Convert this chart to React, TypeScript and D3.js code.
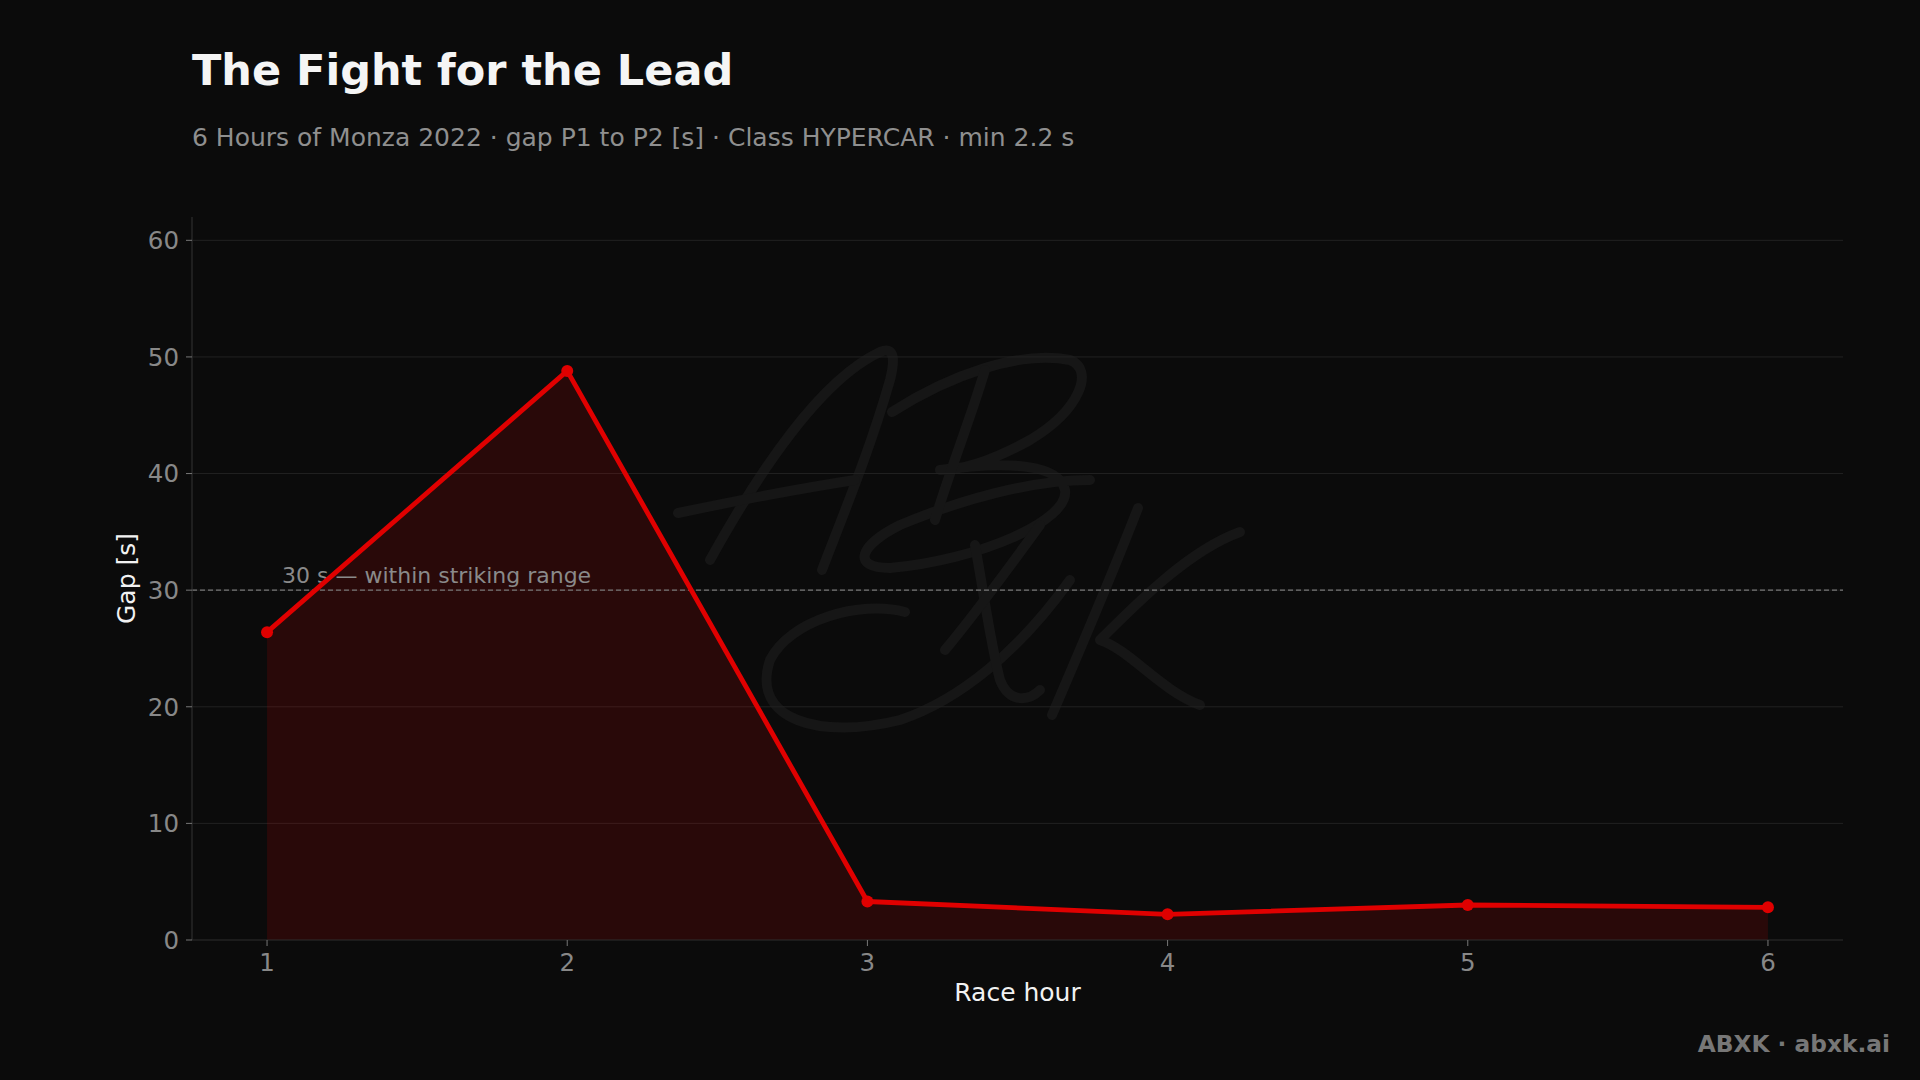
import React from "react";
import * as d3 from "d3";

const hours = [1, 2, 3, 4, 5, 6];
const gaps = [26.4, 48.8, 3.3, 2.2, 3.0, 2.8];
const yTicks = [0, 10, 20, 30, 40, 50, 60];
const xTicks = [1, 2, 3, 4, 5, 6];
const refValue = 30;
const refLabel = "30 s — within striking range";
const title = "The Fight for the Lead";
const subtitle = "6 Hours of Monza 2022 · gap P1 to P2 [s] · Class HYPERCAR · min 2.2 s";
const xLabel = "Race hour";
const yLabel = "Gap [s]";
const footer = "ABXK · abxk.ai";

const W = 1920;
const H = 1080;
const M = { left: 192, right: 1843, top: 217, bottom: 940 };
const FONT = "DejaVu Sans, sans-serif";

export default function App() {
  const x = d3.scaleLinear().domain([0.75, 6.25]).range([M.left, M.right]);
  const y = d3.scaleLinear().domain([0, 62]).range([M.bottom, M.top]);
  const pts = hours.map((h, i) => [h, gaps[i]] as [number, number]);
  const line = d3.line<[number, number]>().x((d) => x(d[0])).y((d) => y(d[1]))(pts) || "";
  const area = d3
    .area<[number, number]>()
    .x((d) => x(d[0]))
    .y0(y(0))
    .y1((d) => y(d[1]))(pts) || "";

  const wm = "#161616";
  return (
    <svg width={W} height={H} style={{ display: "block", position: "absolute", left: 0, top: 0 }} fontFamily={FONT}>
      <rect width={W} height={H} fill="#0b0b0b" />
      {/* watermark signature */}
      <g fill="none" stroke={wm} strokeWidth={10} strokeLinecap="round" strokeLinejoin="round">
        <path d="M 710 560 C 760 470, 820 380, 880 352 C 895 346, 895 360, 890 380 C 870 450, 845 510, 822 570" />
        <path d="M 678 513 C 740 500, 790 490, 855 480" />
        <path d="M 892 412 C 950 375, 1020 350, 1070 360 C 1095 370, 1080 410, 1030 440 C 990 462, 960 470, 940 470 C 1010 460, 1060 465, 1065 490 C 1070 520, 980 560, 890 568 C 850 568, 860 545, 900 525 C 960 500, 1030 480, 1090 480" />
        <path d="M 985 370 C 970 420, 950 470, 935 520" />
        <path d="M 1070 580 C 1020 650, 960 700, 900 720 C 820 740, 750 720, 770 660 C 790 620, 860 600, 905 612" />
        <path d="M 975 545 C 985 600, 990 640, 1000 680 C 1010 705, 1030 700, 1040 690" />
        <path d="M 1040 525 C 1000 580, 970 620, 945 650" />
        <path d="M 1138 508 C 1110 580, 1080 650, 1052 715" />
        <path d="M 1240 532 C 1190 550, 1140 600, 1100 640 C 1130 650, 1160 690, 1200 705" />
      </g>
      {/* grid */}
      {yTicks.filter((t) => t > 0).map((t) => (
        <line key={t} x1={M.left} x2={M.right} y1={y(t)} y2={y(t)} stroke="#222" strokeWidth={1} />
      ))}
      {/* area */}
      <path d={area} fill="#e00000" fillOpacity={0.14} />
      {/* reference line */}
      <line x1={M.left} x2={M.right} y1={y(refValue)} y2={y(refValue)} stroke="#777" strokeWidth={1.3} strokeDasharray="5,3" />
      <text x={x(1) + 15} y={y(refValue) - 7} fill="#8a8a8a" fontSize={22}>{refLabel}</text>
      {/* spines */}
      <line x1={M.left} x2={M.left} y1={M.top} y2={M.bottom} stroke="#2e2e2e" strokeWidth={1.2} />
      <line x1={M.left} x2={M.right} y1={M.bottom} y2={M.bottom} stroke="#2e2e2e" strokeWidth={1.2} />
      {/* line + markers */}
      <path d={line} fill="none" stroke="#e00000" strokeWidth={4.8} strokeLinejoin="round" />
      {pts.map((d, i) => (
        <circle key={i} cx={x(d[0])} cy={y(d[1])} r={6} fill="#e00000" />
      ))}
      {/* y ticks */}
      {yTicks.map((t) => (
        <g key={t}>
          <line x1={M.left - 6} x2={M.left} y1={y(t)} y2={y(t)} stroke="#777" strokeWidth={1} />
          <text x={M.left - 13} y={y(t)} dy="0.36em" textAnchor="end" fill="#888" fontSize={24.5}>{t}</text>
        </g>
      ))}
      {/* x ticks */}
      {xTicks.map((t) => (
        <g key={t}>
          <line x1={x(t)} x2={x(t)} y1={M.bottom} y2={M.bottom + 6} stroke="#777" strokeWidth={1} />
          <text x={x(t)} y={M.bottom + 31} textAnchor="middle" fill="#888" fontSize={24.5}>{t}</text>
        </g>
      ))}
      <text x={(M.left + M.right) / 2} y={1001} textAnchor="middle" fill="#f2f2f2" fontSize={25}>{xLabel}</text>
      <text transform={`translate(135, ${(M.top + M.bottom) / 2}) rotate(-90)`} textAnchor="middle" fill="#f2f2f2" fontSize={25}>{yLabel}</text>
      <text x={192} y={85} fill="#f5f5f5" fontSize={43} fontWeight="bold">{title}</text>
      <text x={192} y={146} fill="#8f8f8f" fontSize={25}>{subtitle}</text>
      <text x={1890} y={1052} textAnchor="end" fill="#777" fontSize={23.3} fontWeight="bold">{footer}</text>
    </svg>
  );
}
